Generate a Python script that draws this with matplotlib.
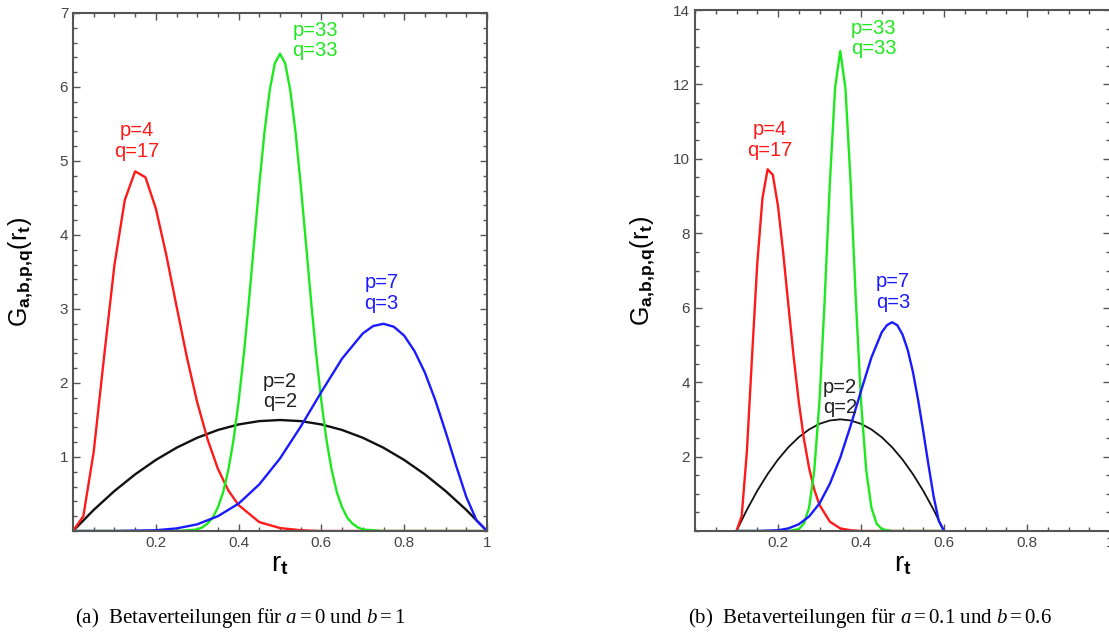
import matplotlib
matplotlib.use("Agg")
import matplotlib.pyplot as plt
from matplotlib.ticker import FixedLocator, MultipleLocator

plt.rcParams['font.family'] = ['Liberation Sans', 'DejaVu Sans']
plt.rcParams['mathtext.fontset'] = 'custom'
plt.rcParams['mathtext.rm'] = 'Liberation Serif'
plt.rcParams['mathtext.it'] = 'Liberation Serif:italic'
plt.rcParams['mathtext.sf'] = 'Liberation Sans'
plt.rcParams['mathtext.bf'] = 'Liberation Sans:bold'

# ---------------- panel (a): a = 0, b = 1 ----------------
red_a_x = [0, 0.025, 0.05, 0.075, 0.1, 0.125, 0.15, 0.175, 0.2, 0.225, 0.25, 0.275,
           0.3, 0.325, 0.35, 0.375, 0.4, 0.45, 0.5, 0.55, 0.6, 1.0]
red_a_y = [0, 0.20, 1.07, 2.35, 3.59, 4.47, 4.86, 4.78, 4.36, 3.74, 3.04, 2.35,
           1.74, 1.24, 0.84, 0.55, 0.35, 0.12, 0.04, 0.01, 0.0, 0.0]

green_a_x = [0, 0.25, 0.3, 0.3125, 0.325, 0.3375, 0.35, 0.3625, 0.375, 0.3875, 0.4, 0.4125,
             0.425, 0.4375, 0.45, 0.4625, 0.475, 0.4875, 0.5, 0.5125, 0.525, 0.5375, 0.55,
             0.5625, 0.575, 0.5875, 0.6, 0.6125, 0.625, 0.6375, 0.65, 0.6625, 0.675, 0.6875,
             0.7, 0.75, 1.0]
green_a_y = [0, 0.0, 0.02, 0.05, 0.10, 0.18, 0.32, 0.52, 0.82, 1.22, 1.75, 2.38,
             3.11, 3.90, 4.68, 5.39, 5.95, 6.32, 6.45, 6.32, 5.95, 5.39, 4.68,
             3.90, 3.11, 2.38, 1.75, 1.22, 0.82, 0.52, 0.32, 0.18, 0.10, 0.05,
             0.02, 0.0, 0.0]

blue_a_x = [0, 0.1, 0.2, 0.25, 0.3, 0.35, 0.4, 0.45, 0.5, 0.55, 0.6, 0.65, 0.7, 0.725,
            0.75, 0.775, 0.8, 0.825, 0.85, 0.875, 0.9, 0.925, 0.95, 0.975, 1.0]
blue_a_y = [0, 0.0, 0.01, 0.035, 0.09, 0.20, 0.37, 0.63, 0.98, 1.41, 1.88, 2.33, 2.67, 2.77,
            2.80, 2.76, 2.64, 2.43, 2.14, 1.77, 1.34, 0.89, 0.46, 0.14, 0]

black_a_x = [0, 0.05, 0.1, 0.15, 0.2, 0.25, 0.3, 0.35, 0.4, 0.45, 0.5,
             0.55, 0.6, 0.65, 0.7, 0.75, 0.8, 0.85, 0.9, 0.95, 1.0]
black_a_y = [0, 0.285, 0.54, 0.765, 0.96, 1.125, 1.26, 1.365, 1.44, 1.485, 1.5,
             1.485, 1.44, 1.365, 1.26, 1.125, 0.96, 0.765, 0.54, 0.285, 0]

# ---------------- panel (b): a = 0.1, b = 0.6 ----------------
red_b_x = [0.1, 0.1125, 0.125, 0.1375, 0.15, 0.1625, 0.175, 0.1875, 0.2, 0.2125, 0.225,
           0.2375, 0.25, 0.2625, 0.275, 0.2875, 0.3, 0.325, 0.35, 0.375, 0.4, 0.6]
red_b_y = [0, 0.40, 2.13, 4.70, 7.18, 8.94, 9.72, 9.57, 8.73, 7.48, 6.07,
           4.70, 3.48, 2.47, 1.69, 1.11, 0.70, 0.25, 0.07, 0.02, 0.0, 0.0]

green_b_x = [0.1, 0.225, 0.25, 0.2625, 0.275, 0.2875, 0.3, 0.3125, 0.325, 0.3375, 0.35,
             0.3625, 0.375, 0.3875, 0.4, 0.4125, 0.425, 0.4375, 0.45, 0.475, 0.6]
green_b_y = [0, 0.0, 0.05, 0.20, 0.63, 1.64, 3.49, 6.22, 9.36, 11.9, 12.9,
             11.9, 9.36, 6.22, 3.49, 1.64, 0.63, 0.20, 0.05, 0.0, 0]

blue_b_x = [0.1, 0.15, 0.2, 0.225, 0.25, 0.275, 0.3, 0.325, 0.35, 0.375, 0.4, 0.425, 0.45,
            0.4625, 0.475, 0.4875, 0.5, 0.5125, 0.525, 0.5375, 0.55, 0.5625, 0.575, 0.5875, 0.6]
blue_b_y = [0, 0.0, 0.02, 0.07, 0.18, 0.39, 0.74, 1.27, 1.97, 2.83, 3.76, 4.66, 5.34,
            5.53, 5.61, 5.53, 5.28, 4.87, 4.28, 3.53, 2.68, 1.78, 0.93, 0.27, 0]

black_b_x = [0.1, 0.125, 0.15, 0.175, 0.2, 0.225, 0.25, 0.275, 0.3, 0.325, 0.35,
             0.375, 0.4, 0.425, 0.45, 0.475, 0.5, 0.525, 0.55, 0.575, 0.6]
black_b_y = [0, 0.57, 1.08, 1.53, 1.92, 2.25, 2.52, 2.73, 2.88, 2.97, 3.0,
             2.97, 2.88, 2.73, 2.52, 2.25, 1.92, 1.53, 1.08, 0.57, 0]

RED, GREEN, BLUE, BLACK = '#ff1a1a', '#1ee81e', '#1a1aff', '#111111'

fig = plt.figure(figsize=(11.09, 6.37), dpi=100)
ax1 = fig.add_axes([73 / 1109, 1 - 531 / 637, 414 / 1109, 518 / 637])
ax2 = fig.add_axes([695 / 1109, 1 - 531 / 637, 415 / 1109, 521 / 637])


def style_axes(ax, ymax, ymajor, yminor, xticks):
    ax.set_xlim(0, 1)
    ax.set_ylim(0, ymax)
    ax.xaxis.set_major_locator(FixedLocator(xticks))
    ax.xaxis.set_minor_locator(MultipleLocator(0.05))
    ax.yaxis.set_major_locator(FixedLocator([v for v in range(ymajor, ymax + 1, ymajor)]))
    ax.yaxis.set_minor_locator(MultipleLocator(yminor))
    ax.xaxis.set_major_formatter(plt.FuncFormatter(lambda v, p: '1' if v == 1 else f'{v:.1f}'))
    ax.tick_params(which='both', direction='in', top=True, right=True,
                   colors='#555555', labelcolor='#444444', labelsize=11)
    ax.tick_params(which='major', length=5, width=1)
    ax.tick_params(which='minor', length=3, width=1)
    for s in ax.spines.values():
        s.set_color('#555555')
        s.set_linewidth(1.5)
    ax.set_xlabel(r'$\mathsf{r}_{\mathbf{t}}$', fontsize=20, labelpad=1)
    ax.set_ylabel(r'$\mathsf{G}_{\mathbf{a,\!b,\!p,\!q}}\mathsf{(r}_{\mathbf{t}}\mathsf{)}$',
                  fontsize=18)
    ax.yaxis.set_label_coords(-0.09, 0.5)


style_axes(ax1, 7, 1, 0.2, [0.2, 0.4, 0.6, 0.8, 1.0])
style_axes(ax2, 14, 2, 0.5, [0.2, 0.4, 0.6, 0.8, 1.0])

lw = 1.7
ax1.plot(black_a_x, black_a_y, color=BLACK, lw=lw)
ax1.plot(red_a_x, red_a_y, color=RED, lw=lw)
ax1.plot(green_a_x, green_a_y, color=GREEN, lw=lw)
ax1.plot(blue_a_x, blue_a_y, color=BLUE, lw=lw)

ax2.plot(black_b_x, black_b_y, color=BLACK, lw=1.3)
ax2.plot(red_b_x, red_b_y, color=RED, lw=lw)
ax2.plot(green_b_x, green_b_y, color=GREEN, lw=lw)
ax2.plot(blue_b_x, blue_b_y, color=BLUE, lw=lw)

fs = 14.5
ls = 1.1
ax1.text(0.155, 5.0, 'p=4\nq=17', color=RED, fontsize=fs, ha='center', va='bottom', linespacing=ls)
ax1.text(0.53, 6.36, 'p=33\nq=33', color=GREEN, fontsize=fs, ha='left', va='bottom', linespacing=ls)
ax1.text(0.745, 2.95, 'p=7\nq=3', color=BLUE, fontsize=fs, ha='center', va='bottom', linespacing=ls)
ax1.text(0.50, 1.62, 'p=2\nq=2', color='#222222', fontsize=fs, ha='center', va='bottom', linespacing=ls)

ax2.text(0.181, 9.97, 'p=4\nq=17', color=RED, fontsize=fs, ha='center', va='bottom', linespacing=ls)
ax2.text(0.376, 12.7, 'p=33\nq=33', color=GREEN, fontsize=fs, ha='left', va='bottom', linespacing=ls)
ax2.text(0.477, 5.89, 'p=7\nq=3', color=BLUE, fontsize=fs, ha='center', va='bottom', linespacing=ls)
ax2.text(0.35, 3.06, 'p=2\nq=2', color='#222222', fontsize=fs, ha='center', va='bottom', linespacing=ls)

cap_font = dict(family='Liberation Serif', fontsize=15, ha='center', va='center')
fig.text(240 / 1109, 1 - 618 / 637, r'(a)  Betaverteilungen für $a=0$ und $b=1$', **cap_font)
fig.text(870 / 1109, 1 - 618 / 637, r'(b)  Betaverteilungen für $a=0.1$ und $b=0.6$', **cap_font)

fig.savefig('out.png', dpi=100)
